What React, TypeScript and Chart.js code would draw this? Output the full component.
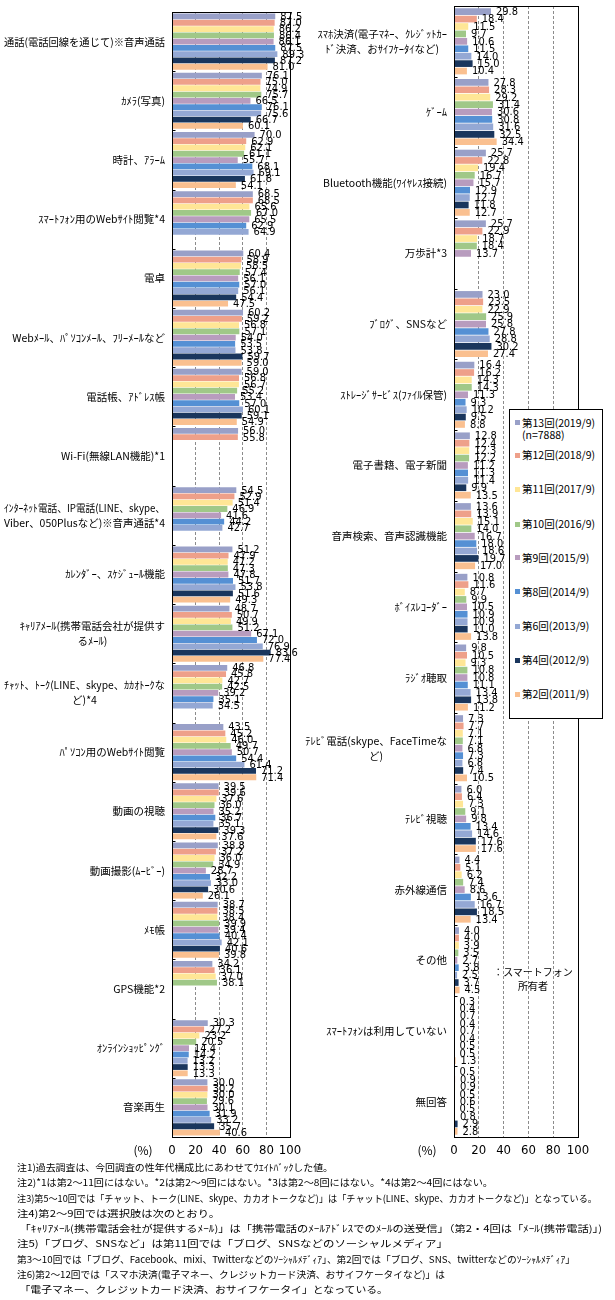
import React, { useEffect, useRef } from "react";
import { Chart, registerables } from "chart.js";

Chart.register(...registerables);

// ---------- series ----------
const seriesLabels = [
  "第13回(2019/9)",
  "第12回(2018/9)",
  "第11回(2017/9)",
  "第10回(2016/9)",
  "第9回(2015/9)",
  "第8回(2014/9)",
  "第6回(2013/9)",
  "第4回(2012/9)",
  "第2回(2011/9)",
];
const seriesColors = [
  "#99A0C8",
  "#EEA08A",
  "#FFE696",
  "#A0C888",
  "#B89CBE",
  "#5590D4",
  "#94A8D4",
  "#1A365D",
  "#FAC090",
];
const sampleNote = "(n=7888)";

// ---------- left chart ----------
const leftCategories: (string | string[])[] = [
  "通話(電話回線を通じて)※音声通話",
  "ｶﾒﾗ(写真)",
  "時計、ｱﾗｰﾑ",
  "ｽﾏｰﾄﾌｫﾝ用のWebｻｲﾄ閲覧*4",
  "電卓",
  "Webﾒｰﾙ、ﾊﾟｿｺﾝﾒｰﾙ、ﾌﾘｰﾒｰﾙなど",
  "電話帳、ｱﾄﾞﾚｽ帳",
  "Wi-Fi(無線LAN機能)*1",
  ["ｲﾝﾀｰﾈｯﾄ電話、IP電話(LINE、skype、", "Viber、050Plusなど)※音声通話*4"],
  "ｶﾚﾝﾀﾞｰ、ｽｹｼﾞｭｰﾙ機能",
  ["ｷｬﾘｱﾒｰﾙ(携帯電話会社が提供す", "るﾒｰﾙ)"],
  ["ﾁｬｯﾄ、ﾄｰｸ(LINE、skype、ｶｶｵﾄｰｸな", "ど)*4"],
  "ﾊﾟｿｺﾝ用のWebｻｲﾄ閲覧",
  "動画の視聴",
  "動画撮影(ﾑｰﾋﾞｰ)",
  "ﾒﾓ帳",
  "GPS機能*2",
  "ｵﾝﾗｲﾝｼｮｯﾋﾟﾝｸﾞ",
  "音楽再生",
];
const left13 = [87.5, 76.1, 70.0, 68.5, 60.4, 60.2, 59.0, 56.0, 54.5, 51.2, 48.7, 46.8, 43.5, 39.5, 38.8, 38.7, 34.2, 30.3, 30.0];
const left12 = [87.0, 75.0, 62.9, 68.5, 58.9, 59.2, 56.8, 55.8, 52.9, 47.9, 50.7, 45.8, 45.2, 39.6, 37.2, 38.5, 36.1, 27.2, 30.2];
const left11 = [86.2, 74.9, 62.1, 65.6, 58.5, 56.8, 56.7, null, 51.4, 47.2, 49.9, 42.7, 46.0, 37.6, 36.0, 38.4, 37.0, 23.2, 30.0];
const left10 = [86.4, 75.7, 61.1, 67.0, 57.4, 57.1, 55.2, null, 46.9, 47.3, 51.2, 42.5, 49.7, 36.0, 34.9, 39.9, 38.1, 20.5, 29.6];
const left9 = [86.1, 66.5, 55.7, 65.5, 56.1, 54.0, 53.4, null, 41.6, 47.8, 67.1, 39.2, 50.7, 35.2, 28.7, 39.4, null, 14.4, 30.1];
const left8 = [87.5, 76.1, 68.1, 62.9, 57.0, 53.5, 57.0, null, 44.2, 51.7, 72.0, 35.1, 54.4, 36.7, 32.2, 40.4, null, 14.2, 31.9];
const left6 = [89.3, 75.6, 69.1, 64.9, 56.1, 53.8, 60.1, null, 42.7, 53.8, 76.9, 34.5, 61.4, 35.1, 33.0, 42.1, null, 13.2, 33.2];
const left4 = [87.2, 66.7, 61.8, null, 54.4, 59.7, 59.1, null, null, 51.6, 83.6, null, 71.2, 39.3, 30.6, 40.6, null, 13.3, 35.7];
const left2 = [81.0, 60.1, 54.1, null, 47.5, 59.0, 54.9, null, null, 49.3, 77.4, null, 71.4, 37.6, 26.1, 39.8, null, 13.3, 40.6];

// ---------- right chart ----------
const rightCategories: (string | string[])[] = [
  ["ｽﾏﾎ決済(電子ﾏﾈｰ、ｸﾚｼﾞｯﾄｶｰ", "ﾄﾞ決済、おｻｲﾌｹｰﾀｲなど)"],
  "ｹﾞｰﾑ",
  "Bluetooth機能(ﾜｲﾔﾚｽ接続)",
  "万歩計*3",
  "ﾌﾞﾛｸﾞ、SNSなど",
  "ｽﾄﾚｰｼﾞｻｰﾋﾞｽ(ﾌｧｲﾙ保管)",
  "電子書籍、電子新聞",
  "音声検索、音声認識機能",
  "ﾎﾞｲｽﾚｺｰﾀﾞｰ",
  "ﾗｼﾞｵ聴取",
  ["ﾃﾚﾋﾞ電話(skype、FaceTimeな", "ど)"],
  "ﾃﾚﾋﾞ視聴",
  "赤外線通信",
  "その他",
  "ｽﾏｰﾄﾌｫﾝは利用していない",
  "無回答",
];
const right13 = [29.8, 27.8, 25.7, 25.7, 23.0, 16.4, 12.8, 13.6, 10.8, 9.8, 7.3, 6.0, 4.4, 4.0, 0.3, 0.5];
const right12 = [18.4, 28.3, 22.8, 22.9, 23.5, 16.2, 12.4, 13.9, 11.6, 10.5, 7.7, 6.4, 5.1, 4.0, 0.4, 0.9];
const right11 = [11.5, 29.2, 19.4, 18.7, 22.9, 14.3, 12.3, 15.1, 8.7, 9.3, 7.1, 7.3, 6.2, 3.9, 0.7, 0.9];
const right10 = [9.7, 31.4, 16.7, 18.4, 25.9, 14.3, 12.2, 14.0, 9.9, 10.8, 7.1, 9.1, 7.4, 3.5, 0.4, 0.5];
const right9 = [10.6, 30.6, 15.7, 13.7, 25.8, 11.3, 11.2, 16.7, 10.5, 10.8, 6.8, 9.8, 8.6, 2.7, 0.7, 0.6];
const right8 = [11.5, 30.8, 12.9, null, 27.8, 9.3, 11.3, 18.0, 10.9, 11.1, 7.3, 13.4, 13.6, 3.8, 0.4, 0.5];
const right6 = [14.0, 31.6, 12.7, null, 28.8, 10.2, 11.4, 18.6, 10.9, 13.4, 6.8, 14.6, 16.7, 2.5, 0.5, 0.8];
const right4 = [15.0, 32.5, 11.8, null, 30.2, 9.5, 9.9, 19.7, 11.0, 13.8, 7.4, 17.6, 18.5, 3.7, 0.5, 2.9];
const right2 = [10.4, 34.4, 12.7, null, 27.4, 8.8, 13.5, 17.0, 13.8, 11.2, 10.5, 17.6, 13.4, 4.5, 1.3, 2.8];

const xTickValues = [0, 20, 40, 60, 80, 100];
const axisTitle = "(%)";
const ownerNote = ["：スマートフォン", "所有者"];

const notes = [
  "注1)過去調査は、今回調査の性年代構成比にあわせてｳｴｲﾄﾊﾞｯｸした値。",
  "注2)*1は第2～11回にはない。*2は第2～9回にはない。*3は第2～8回にはない。*4は第2～4回にはない。",
  "注3)第5～10回では「チャット、トーク(LINE、skype、カカオトークなど)」は「チャット(LINE、skype、カカオトークなど)」となっている。",
  "注4)第2～9回では選択肢は次のとおり。",
  " 「ｷｬﾘｱﾒｰﾙ(携帯電話会社が提供するﾒｰﾙ)」は「携帯電話のﾒｰﾙｱﾄﾞﾚｽでのﾒｰﾙの送受信」（第2・4回は「ﾒｰﾙ(携帯電話)」)",
  "注5)「ブログ、SNSなど」は第11回では「ブログ、SNSなどのソーシャルメディア」",
  "第3～10回では「ブログ、Facebook、mixi、Twitterなどのｿｰｼｬﾙﾒﾃﾞｨｱ」、第2回では「ブログ、SNS、twitterなどのｿｰｼｬﾙﾒﾃﾞｨｱ」",
  "注6)第2～12回では「スマホ決済(電子マネー、クレジットカード決済、おサイフケータイなど)」は",
  " 「電子マネー、クレジットカード決済、おサイフケータイ」となっている。",
];
// right edge (px) of each note line in the layout
const noteLineEnds = [333, 493, 597, 220, 602, 448, 575, 445, 388];

const JP_FONT = "'Noto Sans CJK JP', 'Noto Sans', sans-serif";
const NUM_FONT = "'Liberation Sans Narrow', 'DejaVu Sans Condensed', 'Liberation Sans', sans-serif";

type Geom = {
  yAxisWidth: number;
  padTop: number;
  padRight: number;
  xAxisHeight: number;
  pctOffset: number;
  cat: number;
  bar: number;
};

function buildChart(
  canvas: HTMLCanvasElement,
  categories: (string | string[])[],
  series: (number | null)[][],
  g: Geom
) {
  const datasets = series.map((d, i) => ({
    label: seriesLabels[i],
    data: d,
    backgroundColor: seriesColors[i],
    borderWidth: 0,
    categoryPercentage: g.cat,
    barPercentage: g.bar,
  }));

  const custom = {
    id: "custom",
    afterDatasetsDraw(chart: any) {
      const ctx = chart.ctx as CanvasRenderingContext2D;
      const a = chart.chartArea;
      const yScale = chart.scales.y;
      const xScale = chart.scales.x;
      ctx.save();

      // data labels
      ctx.fillStyle = "#000";
      ctx.font = `11px ${NUM_FONT}`;
      ctx.textAlign = "left";
      ctx.textBaseline = "middle";
      chart.data.datasets.forEach((ds: any, di: number) => {
        const meta = chart.getDatasetMeta(di);
        meta.data.forEach((el: any, idx: number) => {
          const v = ds.data[idx];
          if (v === null || v === undefined) return;
          ctx.fillText(v.toFixed(1), el.x + 5, el.y + 0.5);
        });
      });

      // frame
      ctx.strokeStyle = "#000";
      ctx.lineWidth = 1;
      const l = Math.round(a.left) + 0.5;
      const r = Math.round(a.right) + 0.5;
      const t = Math.round(a.top) + 0.5;
      const b = Math.round(a.bottom) + 0.5;
      ctx.strokeRect(l, t, r - l, b - t);

      // inward tick marks at category boundaries
      ctx.beginPath();
      for (let i = 1; i < categories.length; i++) {
        const y =
          Math.round((yScale.getPixelForValue(i - 1) + yScale.getPixelForValue(i)) / 2) + 0.5;
        ctx.moveTo(l, y);
        ctx.lineTo(l + 3, y);
      }
      ctx.stroke();

      // category labels
      ctx.font = `10.5px ${JP_FONT}`;
      ctx.textAlign = "center";
      ctx.textBaseline = "middle";
      const lineH = 15;
      const blockRight = a.left - 7;
      const maxW = blockRight - 4;
      categories.forEach((c, i) => {
        const lines = Array.isArray(c) ? c : [c];
        const w = Math.min(maxW, Math.max(...lines.map((s) => ctx.measureText(s).width)));
        const cx = blockRight - w / 2;
        const cy = yScale.getPixelForValue(i);
        lines.forEach((s, j) => {
          ctx.fillText(s, cx, cy + (j - (lines.length - 1) / 2) * lineH, maxW);
        });
      });

      // axis title (%)
      ctx.font = `12px ${JP_FONT}`;
      ctx.textAlign = "center";
      ctx.fillText(axisTitle, a.left - g.pctOffset, xScale.top + 13);
      ctx.restore();
    },
  };

  return new Chart(canvas, {
    type: "bar",
    data: { labels: categories as any, datasets: datasets as any },
    options: {
      indexAxis: "y",
      responsive: false,
      maintainAspectRatio: false,
      animation: false,
      events: [],
      layout: { padding: { top: g.padTop, right: g.padRight, left: 0, bottom: 0 } },
      plugins: { legend: { display: false }, tooltip: { enabled: false } },
      scales: {
        x: {
          min: 0,
          max: 100,
          afterBuildTicks: (s: any) => {
            s.ticks = xTickValues.map((v) => ({ value: v }));
          },
          afterFit: (s: any) => {
            s.height = g.xAxisHeight;
          },
          ticks: {
            color: "#000",
            font: { family: NUM_FONT, size: 13 },
            padding: 6,
            maxRotation: 0,
            autoSkip: false,
          },
          grid: {
            drawTicks: false,
            color: (c: any) =>
              c.tick && (c.tick.value === 0 || c.tick.value === 100) ? "rgba(0,0,0,0)" : "#8c8c8c",
            lineWidth: 1,
          },
          border: { display: false, dash: [3, 2] },
        },
        y: {
          ticks: { display: false },
          grid: { display: false },
          border: { display: false },
          afterFit: (s: any) => {
            s.width = g.yAxisWidth;
          },
        },
      },
    } as any,
    plugins: [custom],
  });
}

const legendYs = [422.7, 455, 489.3, 524, 557.7, 591.7, 626, 660, 694.3];

export default function App() {
  const leftRef = useRef<HTMLCanvasElement>(null);
  const rightRef = useRef<HTMLCanvasElement>(null);
  const noteRefs = useRef<(HTMLSpanElement | null)[]>([]);

  useEffect(() => {
    document.body.style.margin = "0";
    const c1 = buildChart(
      leftRef.current!,
      leftCategories,
      [left13, left12, left11, left10, left9, left8, left6, left4, left2],
      { yAxisWidth: 172, padTop: 12, padRight: 20, xAxisHeight: 28, pctOffset: 29, cat: 0.955, bar: 0.92 }
    );
    const c2 = buildChart(
      rightRef.current!,
      rightCategories,
      [right13, right12, right11, right10, right9, right8, right6, right4, right2],
      { yAxisWidth: 154, padTop: 6, padRight: 37, xAxisHeight: 28, pctOffset: 27, cat: 0.945, bar: 0.9 }
    );
    const fit = () => {
      noteRefs.current.forEach((el, i) => {
        if (!el) return;
        el.style.transform = "none";
        const w = el.getBoundingClientRect().width;
        const target = noteLineEnds[i] - 17;
        if (w > 0) el.style.transform = `scaleX(${target / w})`;
      });
    };
    fit();
    if ((document as any).fonts && (document as any).fonts.ready) {
      (document as any).fonts.ready.then(fit);
    }
    return () => {
      c1.destroy();
      c2.destroy();
    };
  }, []);

  return (
    <div
      style={{
        position: "relative",
        width: 615,
        height: 1300,
        background: "#fff",
        overflow: "hidden",
        fontFamily: JP_FONT,
        color: "#000",
      }}
    >
      <canvas
        ref={leftRef}
        width={310}
        height={1165}
        style={{ position: "absolute", left: 0, top: 0, width: 310, height: 1165 }}
      />
      <canvas
        ref={rightRef}
        width={315}
        height={1165}
        style={{ position: "absolute", left: 300, top: 0, width: 315, height: 1165 }}
      />
      {/* legend */}
      <div
        style={{
          position: "absolute",
          left: 509,
          top: 409,
          width: 94,
          height: 310,
          border: "1px solid #000",
          boxSizing: "border-box",
          background: "#fff",
        }}
      />
      {seriesLabels.map((s, i) => (
        <React.Fragment key={s}>
          <div
            style={{
              position: "absolute",
              left: 515,
              top: legendYs[i] - 2.5,
              width: 5,
              height: 5,
              background: seriesColors[i],
            }}
          />
          <div
            style={{
              position: "absolute",
              left: 522,
              top: legendYs[i] - 8,
              height: 16,
              lineHeight: "16px",
              fontSize: 10.5,
              whiteSpace: "nowrap",
            }}
          >
            {s}
          </div>
        </React.Fragment>
      ))}
      <div
        style={{
          position: "absolute",
          left: 522,
          top: 435 - 8,
          height: 16,
          lineHeight: "16px",
          fontSize: 10.5,
          whiteSpace: "nowrap",
        }}
      >
        {sampleNote}
      </div>
      {/* owner note */}
      <div
        style={{
          position: "absolute",
          left: 483,
          top: 965,
          width: 100,
          textAlign: "center",
          fontSize: 10,
          lineHeight: "13.5px",
          whiteSpace: "nowrap",
        }}
      >
        {ownerNote.map((s) => (
          <div key={s}>{s}</div>
        ))}
      </div>
      {/* notes */}
      <div
        style={{
          position: "absolute",
          left: 17,
          top: 1160,
          fontSize: 9.5,
          lineHeight: "15.3px",
          whiteSpace: "pre",
        }}
      >
        {notes.map((s, i) => (
          <div key={i} style={{ height: 15.3 }}>
            <span
              ref={(el) => {
                noteRefs.current[i] = el;
              }}
              style={{ display: "inline-block", transformOrigin: "0 50%" }}
            >
              {s}
            </span>
          </div>
        ))}
      </div>
    </div>
  );
}
